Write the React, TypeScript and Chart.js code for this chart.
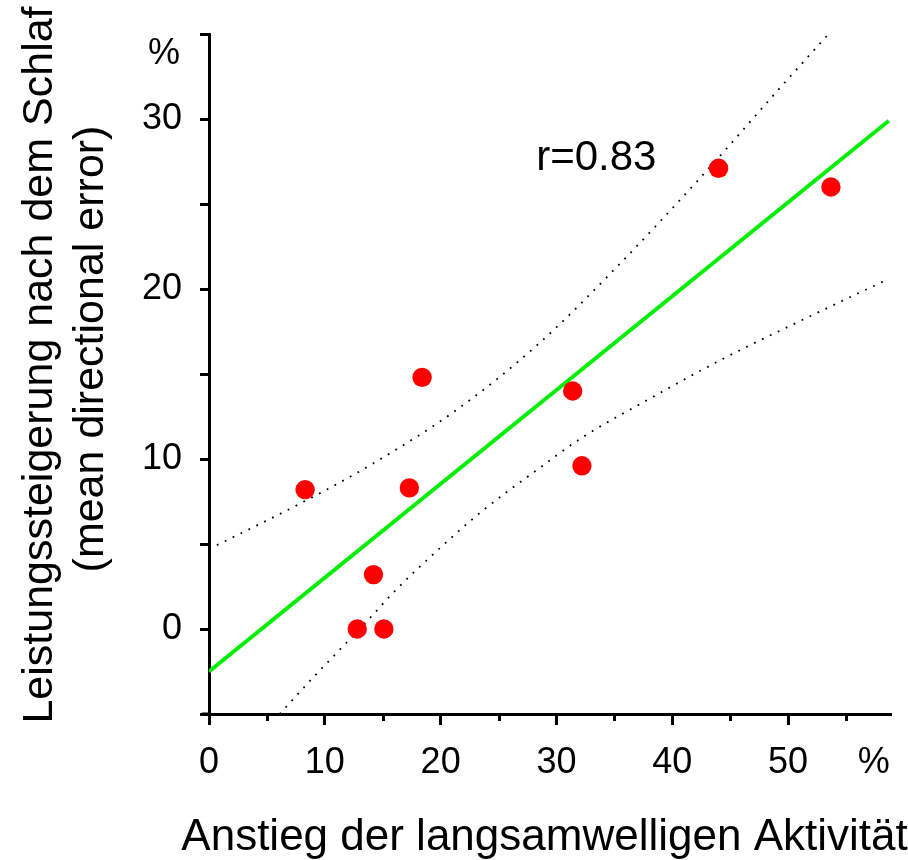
import React, { useEffect, useRef } from 'react';
import { Chart, registerables } from 'chart.js';

Chart.register(...registerables);

// ---- data ----
const xValues = [8.3, 12.8, 14.2, 15.1, 17.3, 18.4, 31.4, 32.2, 44.0, 53.7];
const yValues = [8.2, 0.0, 3.2, 0.0, 8.3, 14.8, 14.0, 9.6, 27.1, 26.0];

const fitX = [0, 58.7];
const fitY = [-2.5, 29.9];

const upperX = [0, 8.5, 14.2, 21.4, 28.5, 35.5, 42.1, 45.0, 49.0, 53.5];
const upperY = [4.7, 7.6, 9.75, 12.9, 16.8, 21.5, 26.3, 28.5, 31.6, 35.0];

const lowerX = [6.1, 9.2, 11.6, 14.1, 16.0, 20.0, 23.7, 28.0, 32.3, 37.4, 44.4, 51.6, 58.7];
const lowerY = [-5.0, -2.7, -1.0, 0.8, 2.2, 4.8, 7.0, 9.2, 11.3, 13.3, 15.9, 18.3, 20.6];

const xTickLabels = ['0', '10', '20', '30', '40', '50'];
const yTickLabels = ['0', '10', '20', '30'];

const xTitle = 'Anstieg der langsamwelligen Aktivität';
const yTitleLines = ['Leistungssteigerung nach dem Schlaf', '(mean directional error)'];
const unitLabel = '%';
const rLabel = 'r=0.83';
const rLabelPos = { x: 28.25, y: 27.0 };
const xUnitPos = 57.4;
const yUnitPos = 33.8;

const FAMILY = '"Liberation Sans", Arial, Helvetica, sans-serif';

const toPoints = (xs: number[], ys: number[]) => xs.map((x, i) => ({ x, y: ys[i] }));

const X_MAJOR_LEN = 11;
const X_MINOR_LEN = 7;
const Y_TICK_LEN = 9;
const TICK_FONT = 36;
const X_PAD = 16;
const Y_PAD = 18;

const textPlugin = {
  id: 'extraText',
  afterDraw(chart: any) {
    const { ctx, chartArea, scales } = chart;
    const xs = scales.x;
    const ys = scales.y;
    ctx.save();

    // short (minor) ticks on the x axis and small overhang of the x axis line
    ctx.strokeStyle = '#000';
    ctx.lineWidth = 3;
    ctx.beginPath();
    xs.ticks.forEach((t: any) => {
      if (!xTickLabels.includes(String(t.value))) {
        const px = Math.round(xs.getPixelForValue(t.value)) + 0.5;
        ctx.moveTo(px, chartArea.bottom);
        ctx.lineTo(px, chartArea.bottom + X_MINOR_LEN);
      }
    });
    ctx.moveTo(chartArea.left - 7, chartArea.bottom);
    ctx.lineTo(chartArea.left, chartArea.bottom);
    ctx.stroke();

    ctx.fillStyle = '#000';
    // unit labels
    ctx.font = `${TICK_FONT}px ${FAMILY}`;
    ctx.textAlign = 'center';
    ctx.textBaseline = 'middle';
    const lh = TICK_FONT * 1.2;
    ctx.fillText(unitLabel, xs.getPixelForValue(xUnitPos), chartArea.bottom + X_MAJOR_LEN + X_PAD + lh / 2);
    ctx.textAlign = 'right';
    ctx.fillText(unitLabel, chartArea.left - Y_TICK_LEN - Y_PAD - 2, ys.getPixelForValue(yUnitPos));

    // r label
    ctx.font = `42px ${FAMILY}`;
    ctx.textAlign = 'left';
    ctx.textBaseline = 'alphabetic';
    ctx.fillText(rLabel, xs.getPixelForValue(rLabelPos.x), ys.getPixelForValue(rLabelPos.y));

    // x title
    ctx.font = `44px ${FAMILY}`;
    ctx.textAlign = 'center';
    ctx.textBaseline = 'alphabetic';
    ctx.fillText(xTitle, (chartArea.left + chartArea.right) / 2 - 5, 850);

    // y title (two lines, rotated)
    ctx.font = `43px ${FAMILY}`;
    const yPositions = [
      { x: 52, y: 365 },
      { x: 103, y: 349 },
    ];
    yTitleLines.forEach((line, i) => {
      ctx.save();
      ctx.translate(yPositions[i].x, yPositions[i].y);
      ctx.rotate(-Math.PI / 2);
      ctx.textAlign = 'center';
      ctx.textBaseline = 'alphabetic';
      ctx.fillText(line, 0, 0);
      ctx.restore();
    });
    ctx.restore();
  },
};

export default function App() {
  const canvasRef = useRef<HTMLCanvasElement | null>(null);

  useEffect(() => {
    const canvas = canvasRef.current;
    if (!canvas) return;

    const tickFont = { family: FAMILY, size: TICK_FONT };

    const chart = new Chart(canvas, {
      type: 'scatter',
      data: {
        datasets: [
          {
            label: 'Messwerte',
            data: toPoints(xValues, yValues),
            backgroundColor: '#ff0000',
            borderColor: '#ff0000',
            borderWidth: 0,
            pointRadius: 9.7,
            pointHoverRadius: 9.7,
            showLine: false,
          },
          {
            label: 'Regression',
            data: toPoints(fitX, fitY),
            borderColor: '#00ee00',
            borderWidth: 4,
            pointRadius: 0,
            showLine: true,
            fill: false,
          },
          {
            label: 'Konfidenz oben',
            data: toPoints(upperX, upperY),
            borderColor: '#000',
            borderWidth: 1.8,
            borderDash: [1.8, 7],
            pointRadius: 0,
            showLine: true,
            cubicInterpolationMode: 'monotone',
            fill: false,
          },
          {
            label: 'Konfidenz unten',
            data: toPoints(lowerX, lowerY),
            borderColor: '#000',
            borderWidth: 1.8,
            borderDash: [1.8, 7],
            pointRadius: 0,
            showLine: true,
            cubicInterpolationMode: 'monotone',
            fill: false,
          },
        ],
      },
      options: {
        responsive: false,
        animation: false,
        devicePixelRatio: 1,
        layout: { padding: { left: 0, right: 18, top: 34, bottom: 0 } },
        plugins: {
          legend: { display: false },
          tooltip: { enabled: false },
          title: { display: false },
        },
        scales: {
          x: {
            type: 'linear',
            min: 0,
            max: 58.8,
            afterFit: (s: any) => {
              s.height = 146;
              s.paddingLeft = 0;
              s.paddingRight = 0;
            },
            ticks: {
              stepSize: 5,
              includeBounds: false,
              autoSkip: false,
              maxRotation: 0,
              minRotation: 0,
              padding: X_PAD,
              color: '#000',
              font: tickFont,
              callback: (v: any) => (xTickLabels.includes(String(v)) ? String(v) : ''),
            },
            grid: {
              display: true,
              drawOnChartArea: false,
              drawTicks: true,
              tickLength: X_MAJOR_LEN,
              tickWidth: 3,
              tickColor: (c: any) =>
                c.tick && xTickLabels.includes(String(c.tick.value)) ? '#000' : 'rgba(0,0,0,0)',
              color: '#000',
              lineWidth: 3,
            },
            border: { display: true, color: '#000', width: 3 },
          },
          y: {
            type: 'linear',
            min: -5,
            max: 35,
            afterFit: (s: any) => {
              s.width = 209;
              s.paddingTop = 0;
              s.paddingBottom = 0;
            },
            ticks: {
              stepSize: 5,
              includeBounds: false,
              autoSkip: false,
              padding: Y_PAD,
              color: '#000',
              font: tickFont,
              callback: (v: any) => (yTickLabels.includes(String(v)) ? String(v) : ''),
            },
            grid: {
              display: true,
              drawOnChartArea: false,
              drawTicks: true,
              tickLength: Y_TICK_LEN,
              tickWidth: 3,
              tickColor: '#000',
              color: '#000',
              lineWidth: 3,
            },
            border: { display: true, color: '#000', width: 3 },
          },
        },
      },
      plugins: [textPlugin],
    } as any);

    return () => chart.destroy();
  }, []);

  return (
    <div style={{ position: 'absolute', left: 0, top: 0, width: 908, height: 860, background: '#fff' }}>
      <canvas ref={canvasRef} width={908} height={860} style={{ display: 'block' }} />
    </div>
  );
}
